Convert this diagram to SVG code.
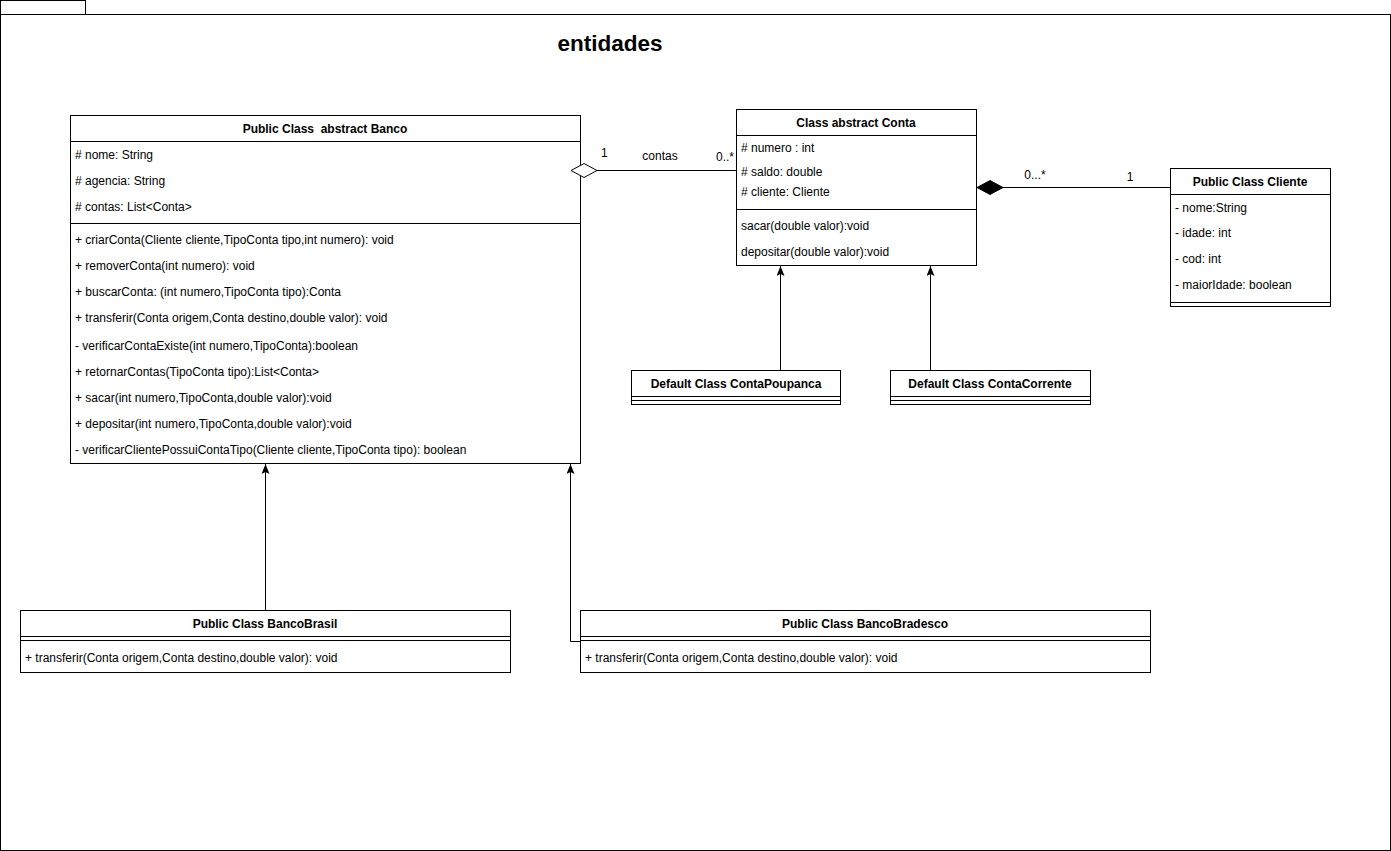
<svg xmlns="http://www.w3.org/2000/svg" width="1391" height="851" viewBox="0 0 1391 851">
<defs>
<style>
.box{fill:#fff;stroke:#000;stroke-width:1}
.ln{stroke:#000;stroke-width:1;fill:none}
.t{font-family:"Liberation Sans",Arial,Helvetica,sans-serif;font-size:12px;fill:#000;white-space:pre}
.b{font-weight:bold;text-anchor:middle}
.h{font-family:"Liberation Sans",Arial,Helvetica,sans-serif;font-size:22.5px;font-weight:bold;fill:#000;text-anchor:middle}
</style>
<marker id="arr" markerWidth="10" markerHeight="10" refX="10" refY="4" orient="auto" markerUnits="userSpaceOnUse">
<path d="M0,0 L10,4 L0,8 L2,4 z" fill="#000"/>
</marker>
</defs>
<rect width="1391" height="851" fill="#fff"/>
<g id="package">
<rect class="box" x="0.5" y="0.5" width="85" height="14"/>
<rect class="box" x="0.5" y="14.5" width="1390" height="836"/>
<text class="h" x="610" y="51">entidades</text>
</g>
<g id="banco">
<rect class="box" x="70.5" y="115.5" width="510" height="348"/>
<path class="ln" d="M70.5,141.5 H580.5 M70.5,223.5 H580.5"/>
<text class="t b" x="325" y="133" xml:space="preserve">Public Class  abstract Banco</text>
<text class="t" x="75" y="159"># nome: String</text>
<text class="t" x="75" y="185"># agencia: String</text>
<text class="t" x="75" y="211"># contas: List&lt;Conta&gt;</text>
<text class="t" x="75" y="244">+ criarConta(Cliente cliente,TipoConta tipo,int numero): void</text>
<text class="t" x="75" y="270">+ removerConta(int numero): void</text>
<text class="t" x="75" y="296">+ buscarConta: (int numero,TipoConta tipo):Conta</text>
<text class="t" x="75" y="322">+ transferir(Conta origem,Conta destino,double valor): void</text>
<text class="t" x="75" y="350">- verificarContaExiste(int numero,TipoConta):boolean</text>
<text class="t" x="75" y="376">+ retornarContas(TipoConta tipo):List&lt;Conta&gt;</text>
<text class="t" x="75" y="402">+ sacar(int numero,TipoConta,double valor):void</text>
<text class="t" x="75" y="428">+ depositar(int numero,TipoConta,double valor):void</text>
<text class="t" x="75" y="454">- verificarClientePossuiContaTipo(Cliente cliente,TipoConta tipo): boolean</text>
</g>
<g id="conta">
<rect class="box" x="736.5" y="109.5" width="240" height="156"/>
<path class="ln" d="M736.5,135.5 H976.5 M736.5,209.5 H976.5"/>
<text class="t b" x="856" y="127">Class abstract Conta</text>
<text class="t" x="741" y="152"># numero : int</text>
<text class="t" x="741" y="176"># saldo: double</text>
<text class="t" x="741" y="196"># cliente: Cliente</text>
<text class="t" x="741" y="230">sacar(double valor):void</text>
<text class="t" x="741" y="256">depositar(double valor):void</text>
</g>
<g id="cliente">
<rect class="box" x="1170.5" y="168.5" width="160" height="138"/>
<path class="ln" d="M1170.5,194.5 H1330.5 M1170.5,302.5 H1330.5"/>
<text class="t b" x="1250" y="186">Public Class Cliente</text>
<text class="t" x="1175" y="212">- nome:String</text>
<text class="t" x="1175" y="237">- idade: int</text>
<text class="t" x="1175" y="263">- cod: int</text>
<text class="t" x="1175" y="289">- maiorIdade: boolean</text>
</g>
<g id="contaPoupanca">
<rect class="box" x="631.5" y="370.5" width="209" height="34"/>
<path class="ln" d="M631.5,396.5 H840.5 M631.5,400.5 H840.5"/>
<text class="t b" x="736" y="388">Default Class ContaPoupanca</text>
</g>
<g id="contaCorrente">
<rect class="box" x="890.5" y="370.5" width="200" height="34"/>
<path class="ln" d="M890.5,396.5 H1090.5 M890.5,400.5 H1090.5"/>
<text class="t b" x="990" y="388">Default Class ContaCorrente</text>
</g>
<g id="bancoBrasil">
<rect class="box" x="20.5" y="610.5" width="490" height="62"/>
<path class="ln" d="M20.5,636.5 H510.5 M20.5,640.5 H510.5"/>
<text class="t b" x="265" y="628">Public Class BancoBrasil</text>
<text class="t" x="25" y="662">+ transferir(Conta origem,Conta destino,double valor): void</text>
</g>
<g id="bancoBradesco">
<rect class="box" x="580.5" y="610.5" width="570" height="62"/>
<path class="ln" d="M580.5,636.5 H1150.5 M580.5,640.5 H1150.5"/>
<text class="t b" x="865" y="628">Public Class BancoBradesco</text>
<text class="t" x="585" y="662">+ transferir(Conta origem,Conta destino,double valor): void</text>
</g>
<g id="connectors">
<path class="ln" d="M597,170.5 L736,170.5"/>
<path d="M571,170.5 L584,163.5 L597,170.5 L584,177.5 z" fill="#fff" stroke="#000"/>
<text class="t" x="601" y="157">1</text>
<text class="t" x="660" y="160" text-anchor="middle">contas</text>
<text class="t" x="734" y="161" text-anchor="end">0..*</text>
<path class="ln" d="M1003,187.5 L1170,187.5"/>
<path d="M977,187.5 L990,180.5 L1003,187.5 L990,194.5 z" fill="#000" stroke="#000"/>
<text class="t" x="1035" y="179" text-anchor="middle">0...*</text>
<text class="t" x="1130" y="181" text-anchor="middle">1</text>
<path class="ln" d="M780.5,370 L780.5,266" marker-end="url(#arr)"/>
<path class="ln" d="M930.5,370 L930.5,266" marker-end="url(#arr)"/>
<path class="ln" d="M265.5,610 L265.5,464" marker-end="url(#arr)"/>
<path class="ln" d="M580,641.5 L570.5,641.5 L570.5,464" marker-end="url(#arr)"/>
</g>
</svg>
